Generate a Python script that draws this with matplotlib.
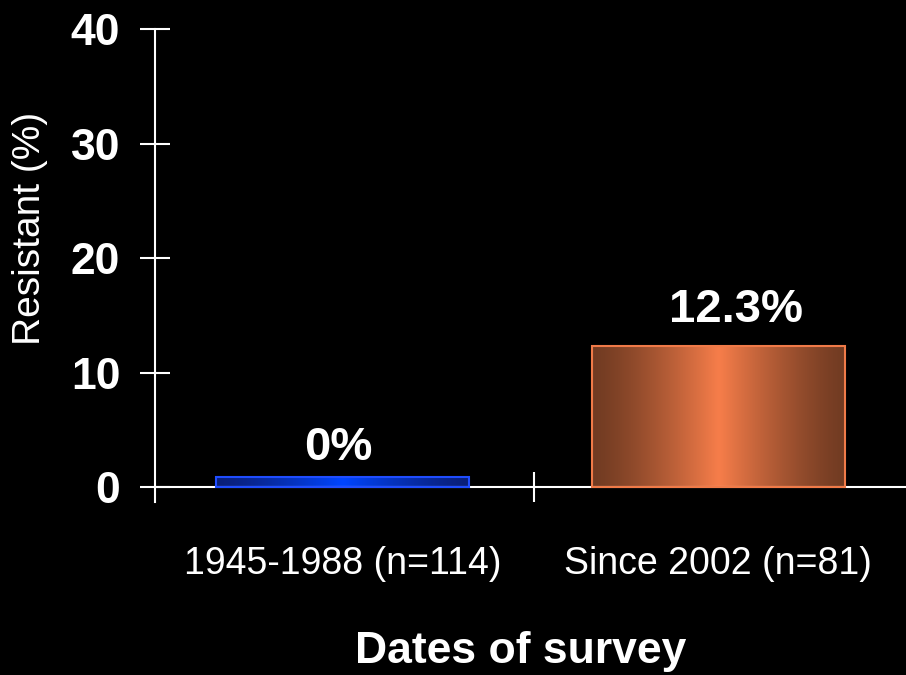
import numpy as np
import matplotlib
matplotlib.use('Agg')
import matplotlib.pyplot as plt
from matplotlib.colors import LinearSegmentedColormap

# survey data
periods = ['1945-1988 (n=114)', 'Since 2002 (n=81)']
resistant = [0.0, 12.3]
bar_labels = ['0%', '12.3%']
min_visible = 0.9  # keep a zero bar visible as a thin strip

edge_colors = ['#1f4dff', '#f07a48']
dark_colors = ['#0a1f78', '#713b22']
light_colors = ['#0045ff', '#f67d4a']
label_offsets = [(-3, 5), (13, 10)]  # points

plt.rcParams['font.family'] = ['Liberation Sans', 'DejaVu Sans']

fig = plt.figure(figsize=(9.06, 6.75), dpi=100, facecolor='black')
ax = fig.add_axes([155 / 906, 1 - 502 / 675, 751 / 906, 473 / 675])
ax.set_facecolor('black')

x = np.arange(len(periods)) + 0.5
heights = np.maximum(resistant, min_visible)
bars = ax.bar(x, heights, width=0.674, color='none',
              edgecolor=edge_colors, linewidth=1.5, zorder=3)

# horizontal shading: dark at the sides, bright in the middle
grad = np.linspace(0, 1, 256)
grad = 1 - np.abs(grad - 0.5) * 2
grad = grad ** 1.3
for b, dk, lt in zip(bars, dark_colors, light_colors):
    cmap = LinearSegmentedColormap.from_list('g', [dk, lt])
    x0, y0 = b.get_x(), b.get_y()
    ax.imshow(grad[np.newaxis, :], cmap=cmap, aspect='auto',
              extent=(x0, x0 + b.get_width(), y0, y0 + b.get_height()),
              zorder=2, interpolation='bicubic')

for xi, h, lab, off in zip(x, heights, bar_labels, label_offsets):
    ax.annotate(lab, (xi, h), xytext=off, textcoords='offset points',
                ha='center', va='bottom', color='white', fontsize=34,
                fontweight='bold')

ax.set_xlim(0, 2)
ax.set_ylim(-1.3, 40)
ax.set_yticks([0, 10, 20, 30, 40])
ax.set_xticks([1.01])
ax.set_xticklabels([''])
ax.spines['bottom'].set_position(('data', 0))
for s in ['top', 'right']:
    ax.spines[s].set_visible(False)
for s in ['left', 'bottom']:
    ax.spines[s].set_color('white')
    ax.spines[s].set_linewidth(1.5)

ax.tick_params(axis='y', direction='inout', length=22, width=1.5,
               colors='white', labelsize=32, pad=14)
ax.tick_params(axis='x', direction='inout', length=22, width=1.5,
               colors='white')
for t in ax.get_yticklabels():
    t.set_fontweight('bold')

for xi, p in zip(x, periods):
    ax.text(xi, -5.1, p, ha='center', va='top', color='white', fontsize=27)

fig.text(521 / 906, 1 - 651 / 675, 'Dates of survey', ha='center',
         va='center', color='white', fontsize=32, fontweight='bold')
fig.text(30 / 906, 1 - 228 / 675, 'Resistant (%)', rotation=90, ha='center',
         va='center', color='white', fontsize=28)

fig.savefig('out.png', dpi=100, facecolor='black')
